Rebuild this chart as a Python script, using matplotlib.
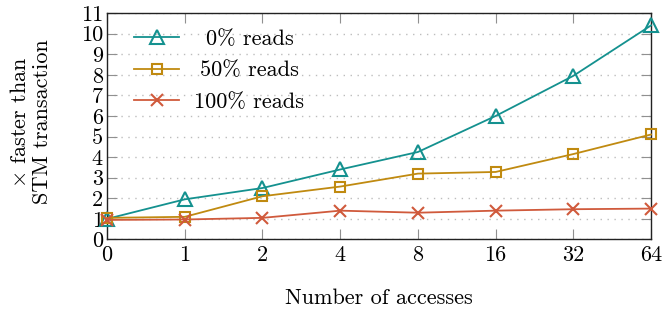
import matplotlib
matplotlib.use("Agg")
import matplotlib.pyplot as plt

plt.rcParams['font.family'] = ['cmr10', 'DejaVu Serif']
plt.rcParams['mathtext.fontset'] = 'cm'
plt.rcParams['axes.formatter.use_mathtext'] = True

accesses = ["0", "1", "2", "4", "8", "16", "32", "64"]
reads0 = [1.0, 1.95, 2.5, 3.4, 4.25, 6.0, 7.95, 10.4]
reads50 = [1.05, 1.1, 2.1, 2.57, 3.2, 3.28, 4.15, 5.1]
reads100 = [0.95, 0.97, 1.05, 1.4, 1.3, 1.4, 1.47, 1.5]
labels = ["0% reads", "50% reads", "100% reads"]
yticks = list(range(0, 12))

c0, c50, c100 = '#14918f', '#c08a10', '#d05a3c'
FS = 16

fig = plt.figure(figsize=(6.65, 3.11), dpi=100)
ax = fig.add_axes([0.161, 0.23, 0.818, 0.728])

x = list(range(len(accesses)))
ax.plot(x, reads0, color=c0, lw=1.3, marker='^', ms=10, mfc='none', mew=1.5, label=labels[0], clip_on=False, zorder=3)
ax.plot(x, reads50, color=c50, lw=1.3, marker='s', ms=7.5, mfc='none', mew=1.5, label=labels[1], clip_on=False, zorder=3)
ax.plot(x, reads100, color=c100, lw=1.3, marker='x', ms=8, mew=1.5, label=labels[2], clip_on=False, zorder=3)

ax.set_xlim(0, len(accesses) - 1)
ax.set_ylim(0, 11)
ax.set_xticks(x)
ax.set_xticklabels(accesses)
ax.set_yticks(yticks)
ax.set_yticklabels([str(v) for v in yticks])
ax.yaxis.grid(True, linestyle=(0, (1, 4)), color='#bdbdbd', lw=1.0)
ax.set_axisbelow(True)
ax.tick_params(direction='in', top=True, right=True, length=7, width=0.8,
               color='#909090', labelsize=FS)
ax.tick_params(axis='x', pad=4)
ax.tick_params(axis='y', pad=3)
for s in ax.spines.values():
    s.set_linewidth(1.0)
    s.set_color('#222222')

ax.set_xlabel("Number of accesses", fontsize=FS)
ax.xaxis.set_label_coords(0.5, -0.215)
ax.set_ylabel("$\\times$ faster than\nSTM transaction", fontsize=FS, linespacing=1.15)
ax.yaxis.set_label_coords(-0.101, 0.52)

leg = ax.legend(loc='upper left', frameon=False, fontsize=FS, handlelength=2.0,
                borderaxespad=0.0, labelspacing=0.53, handletextpad=0.7,
                bbox_to_anchor=(0.034, 0.967))

# center legend labels like pgfplots
fig.canvas.draw()
r = fig.canvas.get_renderer()
texts = leg.get_texts()
widths = [t.get_window_extent(r).width for t in texts]
mw = max(widths)
for t, w in zip(texts, widths):
    t.set_x((mw - w) / 2)

fig.savefig("out.png", dpi=100)
